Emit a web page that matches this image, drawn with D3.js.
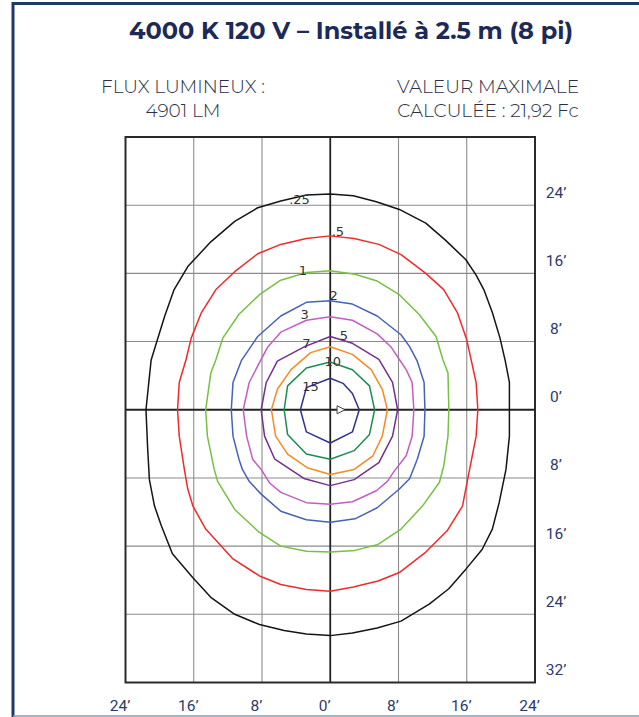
<!DOCTYPE html>
<html>
<head>
<meta charset="utf-8">
<script src="https://cdn.jsdelivr.net/npm/d3@7"></script>
<style>
  html, body { margin: 0; padding: 0; background: #fff; }
  svg { display: block; }
</style>
</head>
<body>
<div id="container"></div>
<script>
// header texts
const titleText = "4000 K 120 V \u2013 Install\u00e9 \u00e0 2.5 m (8 pi)";
const leftInfo = ["FLUX LUMINEUX :", "4901 LM"];
const rightInfo = ["VALEUR MAXIMALE", "CALCUL\u00c9E : 21,92 Fc"];

// axes (feet)
const xTicks = [-24, -16, -8, 0, 8, 16, 24];
const xTickLabels = ["24\u2019", "16\u2019", "8\u2019", "0\u2019", "8\u2019", "16\u2019", "24\u2019"];
const yTicks = [24, 16, 8, 0, -8, -16, -24, -32];
const yTickLabels = ["24\u2019", "16\u2019", "8\u2019", "0\u2019", "8\u2019", "16\u2019", "24\u2019", "32\u2019"];
const gridX = [-16, -8, 8, 16];
const gridY = [24, 16, 8, -8, -16, -24];

// isolux levels (fc) and their contours, points in feet [x, y]
const levels = [".25", ".5", "1", "2", "3", "5", "7", "10", "15"];
const iso025 = [[21.0,0],[21.0,3.2],[20.5,5.8],[19.9,8.4],[19.0,11.4],[18.0,14.1],[17.1,15.8],[15.9,17.6],[13.5,19.9],[11.2,21.9],[8.1,23.5],[5.4,24.4],[2.7,25.1],[0,25.3],[-2.8,25.2],[-5.8,24.5],[-8.5,23.7],[-11.2,22.1],[-14.0,19.7],[-16.7,16.8],[-18.3,14.1],[-19.4,11.0],[-20.3,8.1],[-21.0,5.8],[-21.6,0],[-21.4,-4.6],[-21.2,-8.2],[-20.6,-11.3],[-19.8,-13.6],[-18.5,-16.9],[-16.1,-19.7],[-14.0,-22.0],[-11.2,-24.0],[-8.3,-25.2],[-5.4,-25.9],[-2.8,-26.3],[0,-26.5],[2.6,-26.2],[5.5,-25.6],[8.3,-24.8],[11.6,-22.8],[13.9,-21.0],[15.9,-18.7],[17.8,-16.4],[19.0,-14.0],[19.8,-10.9],[20.6,-7.0],[21.0,-3.1]];
const iso05 = [[17.3,0],[17.1,3.2],[16.0,8.2],[14.9,11.4],[13.3,14.1],[11.2,16.0],[8.3,18.2],[5.7,19.4],[2.8,20.1],[0,20.4],[-2.8,20.1],[-5.8,19.4],[-8.5,18.3],[-11.2,16.2],[-13.4,14.1],[-15.1,11.4],[-16.3,8.4],[-16.9,5.9],[-17.7,3.2],[-17.9,0],[-17.7,-3.1],[-17.1,-7.0],[-16.7,-9.3],[-16.1,-11.3],[-14.6,-14.0],[-11.4,-17.5],[-8.3,-19.5],[-5.8,-20.5],[-2.8,-21.1],[0,-21.3],[2.7,-20.8],[5.6,-20.1],[8.1,-19.1],[11.2,-16.7],[13.7,-14.2],[15.5,-11.3],[16.1,-8.2],[17.1,-3.1]];
const iso1 = [[13.9,0],[13.8,4.3],[13.2,5.9],[12.4,8.6],[10.4,11.2],[8.1,13.5],[5.5,15.1],[2.9,15.9],[0,16.3],[-2.8,16.1],[-5.8,15.2],[-8.3,13.5],[-10.7,11.2],[-12.6,8.4],[-13.4,5.9],[-14.0,4.3],[-14.6,0],[-14.4,-3.1],[-13.6,-7.0],[-13.2,-8.4],[-11.2,-11.7],[-8.3,-14.4],[-5.8,-16.0],[-2.8,-16.6],[0,-16.7],[2.9,-16.5],[5.6,-15.8],[8.3,-14.0],[10.8,-11.3],[12.8,-8.5],[13.3,-6.6],[13.8,-3.1]];
const iso2 = [[11.1,0],[11.0,3.2],[10.2,5.7],[9.3,7.4],[8.3,8.8],[5.5,11.0],[2.6,12.4],[0,12.8],[-2.8,12.6],[-5.8,11.0],[-8.5,8.6],[-10.4,5.8],[-11.4,3.2],[-11.6,0],[-11.4,-3.1],[-10.7,-5.8],[-10.3,-7.0],[-9.5,-8.4],[-8.1,-9.9],[-5.8,-11.9],[-2.8,-12.9],[0,-13.2],[2.9,-12.8],[5.5,-11.5],[8.1,-9.3],[9.3,-8.1],[10.2,-5.8],[11.0,-3.1]];
const iso3 = [[9.8,0],[9.6,3.2],[8.9,4.7],[8.1,5.9],[7.1,7.4],[5.5,8.9],[2.6,10.5],[0,10.9],[-2.8,10.5],[-5.8,9.1],[-7.3,7.4],[-8.1,5.9],[-9.5,3.2],[-10.2,0],[-9.8,-3.1],[-9.1,-5.8],[-8.1,-7.0],[-7.1,-8.6],[-5.8,-9.7],[-2.8,-10.9],[0,-11.1],[2.6,-10.8],[5.4,-9.5],[6.7,-8.4],[7.5,-7.2],[8.9,-5.4],[9.6,-3.1]];
const iso5 = [[7.9,0],[7.3,3.2],[5.7,5.9],[2.6,7.8],[0,8.6],[-3.0,7.4],[-6.2,5.7],[-7.5,3.2],[-8.1,0],[-7.7,-3.1],[-6.5,-5.8],[-3.0,-8.1],[0,-8.9],[2.8,-8.2],[5.7,-6.2],[7.3,-3.1]];
const iso7 = [[6.7,0],[6.1,2.4],[4.8,4.7],[2.6,6.5],[0,7.4],[-2.3,6.7],[-4.6,4.7],[-6.2,2.4],[-6.9,0],[-6.4,-3.1],[-5.0,-5.2],[-2.7,-6.8],[0,-7.6],[2.8,-7.0],[5.0,-5.4],[6.1,-3.1]];
const iso10 = [[5.2,0],[4.6,2.8],[2.6,4.7],[0,5.6],[-2.8,4.9],[-5.0,2.8],[-5.4,0],[-5.0,-2.9],[-2.8,-5.2],[0,-5.8],[2.8,-4.8],[4.6,-2.9]];
const iso15 = [[3.4,0],[2.6,1.9],[1.5,3.1],[0,3.7],[-2.8,2.6],[-3.5,0],[-2.8,-2.6],[0,-3.9],[2.6,-2.6]];
const contours = [iso025, iso05, iso1, iso2, iso3, iso5, iso7, iso10, iso15];
const colors = ["#151515", "#ee2b2b", "#76c043", "#4562b8", "#c35ec0", "#74308c", "#f58b26", "#1c8c4e", "#2e3192"];
// where each level is written (feet)
const labelAt = [[-3.6,24.7],[0.9,20.9],[-3.2,16.4],[0.4,13.4],[-3.0,11.2],[1.6,8.7],[-2.8,7.8],[0.3,5.7],[-2.3,2.7]];

const W = 639, H = 717;
const svg = d3.select("#container").append("svg")
  .attr("width", W).attr("height", H);

// frame
svg.append("line").attr("x1", 13).attr("x2", W).attr("y1", 3.5).attr("y2", 3.5)
  .attr("stroke", "#1d3a66").attr("stroke-width", 3);
svg.append("line").attr("x1", 13).attr("x2", 13).attr("y1", 2).attr("y2", H)
  .attr("stroke", "#1d3a66").attr("stroke-width", 3);
svg.append("line").attr("x1", 13).attr("x2", W).attr("y1", 716).attr("y2", 716)
  .attr("stroke", "#7f9dc2").attr("stroke-width", 1.5);

// header
svg.append("text").attr("x", 351).attr("y", 39)
  .attr("text-anchor", "middle")
  .attr("font-family", "Montserrat, Inter, 'Open Sans', sans-serif")
  .attr("font-weight", 700).attr("font-size", 24)
  .attr("fill", "#1c2a57").text(titleText);

const info = svg.append("g")
  .attr("font-family", "Montserrat, Inter, 'Open Sans', sans-serif")
  .attr("font-weight", 300).attr("font-size", 18.5).attr("fill", "#2b2f45")
  .attr("text-anchor", "middle");
info.selectAll(".l").data(leftInfo).join("text")
  .attr("x", 183).attr("y", (d, i) => 92.5 + i * 24).text(d => d);
info.selectAll(".r").data(rightInfo).join("text")
  .attr("x", 488).attr("y", (d, i) => 92.5 + i * 24).text(d => d);

// scales
const x = d3.scaleLinear().domain([-24, 24]).range([125.5, 535]);
const y = d3.scaleLinear().domain([-32, 32]).range([682.5, 137]);

// grid
const grid = svg.append("g");
grid.selectAll(".gx").data(gridX).join("line")
  .attr("x1", d => x(d)).attr("x2", d => x(d))
  .attr("y1", y(32)).attr("y2", y(-32))
  .attr("stroke", "#8c8c8c").attr("stroke-width", 1.1);
grid.selectAll(".gy").data(gridY).join("line")
  .attr("x1", x(-24)).attr("x2", x(24))
  .attr("y1", d => y(d)).attr("y2", d => y(d))
  .attr("stroke", "#8c8c8c").attr("stroke-width", 1.1);
grid.append("line")
  .attr("x1", x(0)).attr("x2", x(0)).attr("y1", y(32)).attr("y2", y(-32))
  .attr("stroke", "#222").attr("stroke-width", 1.8);
grid.append("line")
  .attr("x1", x(-24)).attr("x2", x(24)).attr("y1", y(0)).attr("y2", y(0))
  .attr("stroke", "#222").attr("stroke-width", 1.8);
grid.append("rect")
  .attr("x", x(-24)).attr("y", y(32))
  .attr("width", x(24) - x(-24)).attr("height", y(-32) - y(32))
  .attr("fill", "none").attr("stroke", "#2a2a2a").attr("stroke-width", 2);

// isolux lines
const line = d3.line()
  .x(d => x(d[0])).y(d => y(d[1]))
  .curve(d3.curveLinearClosed);
svg.append("g").selectAll("path").data(contours).join("path")
  .attr("d", line)
  .attr("fill", "none")
  .attr("stroke", (d, i) => colors[i])
  .attr("stroke-width", 1.5)
  .attr("stroke-linejoin", "round");

// level labels
svg.append("g").selectAll("text").data(levels).join("text")
  .attr("x", (d, i) => x(labelAt[i][0]))
  .attr("y", (d, i) => y(labelAt[i][1]))
  .attr("dy", "0.35em")
  .attr("text-anchor", "middle")
  .attr("font-family", "'DejaVu Sans', sans-serif")
  .attr("font-size", 13)
  .attr("fill", "#333")
  .text(d => d);

// luminaire marker
const mk = 0.8;
svg.append("path")
  .attr("d", "M" + x(mk) + "," + (y(0) - 4) + "L" + (x(mk) + 8) + "," + y(0) + "L" + x(mk) + "," + (y(0) + 4) + "Z")
  .attr("fill", "#fff").attr("stroke", "#444").attr("stroke-width", 1);

// axis labels
const xAxis = svg.append("g")
  .attr("transform", "translate(-6,700)")
  .call(d3.axisBottom(x).tickValues(xTicks).tickSize(0).tickPadding(0)
    .tickFormat((d, i) => xTickLabels[i]));
xAxis.select(".domain").remove();

const yAxis = svg.append("g")
  .attr("transform", "translate(556,-13)")
  .call(d3.axisRight(y).tickValues(yTicks).tickSize(0).tickPadding(0)
    .tickFormat((d, i) => yTickLabels[i]));
yAxis.select(".domain").remove();
yAxis.selectAll("text").attr("x", 0).attr("text-anchor", "middle");

svg.selectAll(".tick text")
  .attr("font-family", "Roboto, sans-serif")
  .attr("font-size", 15.5)
  .attr("fill", "#2c3a6a");
</script>
</body>
</html>
